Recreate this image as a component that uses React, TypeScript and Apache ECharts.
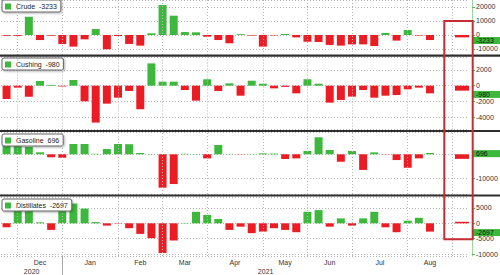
import React, { useEffect, useRef } from "react";
import * as echarts from "echarts";

// Weekly slots (week ending); the last slot holds the highlighted latest week
const weeks = [
  "11/20", "11/27", "12/04", "12/11", "12/18", "12/25", "01/01", "01/08", "01/15", "01/22",
  "01/29", "02/05", "02/12", "02/19", "02/26", "03/05", "03/12", "03/19", "03/26", "04/02",
  "04/09", "04/16", "04/23", "04/30", "05/07", "05/14", "05/21", "05/28", "06/04", "06/11",
  "06/18", "06/25", "07/02", "07/09", "07/16", "07/23", "07/30", "08/06", "08/13", "", "", "08/20",
];

// Weekly changes (thousand barrels)
const crude = [
  -500, -600, 13100, -3600, -500, -6400, -8300, -3100, 4300, -10200,
  -700, -6400, -7600, 1200, 21400, 13800, 2100, 1900, -1200, -3600,
  -5900, 600, -400, -8300, -300, 700, -1700, -4800, -5000, -7100,
  -7600, -6700, -6700, -7900, 1500, -4000, 3600, -400, -3600,
];
const cushing = [
  -1680, -250, -1390, 600, 100, -100, 720, -1980, -4680, -2280,
  -1520, -670, -2990, 2830, 510, 510, -550, -1900, 810, -670,
  300, -1270, 630, 250, -340, -150, -970, 810, 250, -2150,
  -1810, -1390, -550, -1520, -1270, -1180, -460, -250, -970,
];
const gasoline = [
  3500, 4200, 3000, 830, -1250, -1400, 4300, 4300, 200, 2200,
  4300, 4200, 550, 100, -13900, -12400, 200, 100, -1700, 3900,
  100, -100, 100, 400, 300, -1950, -1700, 1400, 7100, 1800,
  -3100, 1400, -6500, 800, -100, -2400, -5600, -1700, 550,
];
const distillates = [
  -1300, 4300, 5400, 300, -2150, 4600, 6450, 4800, 400, -750,
  -100, -1600, -3450, -4850, -9700, -5600, 100, 3750, 2700, 1400,
  -2150, -1100, -3200, -2700, -1600, -2150, -2900, 3750, 4300, -1100,
  1600, -750, 1600, 3750, -1300, -2900, 850, 1800, -2700,
];

const panelNames = ["Crude", "Cushing", "Gasoline", "Distillates"];
const latestValues = [-3233, -980, 696, -2697];
const highlightBars = [-1700, -630, -1900, 500];

const monthGridIdx = [1, 5, 10, 14, 18, 23, 27, 31, 36, 40];
const monthLabels = ["Dec", "Jan", "Feb", "Mar", "Apr", "May", "Jun", "Jul", "Aug"];
const monthLabelPos = [3, 7.5, 12, 16, 20.5, 25, 29, 33.5, 38];
const yearLabels = ["2020", "2021"];
const yearLabelPos = [2.25, 23.25];
const yearSplitIdx = [5];

const GREEN = "#3db83d";
const RED = "#ec1c24";
const FONT = "Liberation Sans, Arial, sans-serif";

export default function App() {
  const ref = useRef<HTMLDivElement>(null);
  useEffect(() => {
    const chart = echarts.init(ref.current!, null, { renderer: "svg" });
    const panelValues = [crude, cushing, gasoline, distillates];
    const layout = [
      { top: 0, height: 55, min: -14286, max: 25000, split: 5, legendTop: 0, hideZero: false },
      { top: 57, height: 72.5, min: -5560, max: 3640, split: 5, legendTop: 58, hideZero: false },
      { top: 132, height: 62, min: -16540, max: 9290, split: 2, legendTop: 134, hideZero: true },
      { top: 197, height: 59, min: -10650, max: 8570, split: 4, legendTop: 199, hideZero: false },
    ];
    const n = weeks.length;

    const grid = layout.map((l) => ({
      left: 1, right: 31, top: l.top, height: l.height,
      containLabel: false, outerBoundsMode: "none",
    }));

    const xAxis: any[] = [];
    layout.forEach((_, i) => {
      xAxis.push({ type: "category", gridIndex: i, data: weeks, show: false, boundaryGap: true });
      xAxis.push({ type: "category", gridIndex: i, data: weeks, show: false, boundaryGap: true });
    });
    const findLabel = (pos: number[], labels: string[]) => (v: number) => {
      const k = pos.findIndex((p) => Math.abs(p - v) < 1e-6);
      return k >= 0 ? labels[k] : "";
    };
    xAxis.push({
      type: "value", gridIndex: 3, min: -0.5, max: n - 0.5, position: "bottom",
      axisLine: { show: false, onZero: false },
      axisTick: { show: true, customValues: yearSplitIdx, length: 19, lineStyle: { color: "#aaa" } },
      splitLine: { show: false },
      axisLabel: {
        customValues: monthLabelPos, formatter: findLabel(monthLabelPos, monthLabels),
        fontSize: 7, color: "#333", fontFamily: FONT, margin: 3,
      },
    });
    xAxis.push({
      type: "value", gridIndex: 3, min: -0.5, max: n - 0.5, position: "bottom", offset: 9,
      axisLine: { show: false, onZero: false }, axisTick: { show: false }, splitLine: { show: false },
      axisLabel: {
        customValues: yearLabelPos, formatter: findLabel(yearLabelPos, yearLabels),
        fontSize: 7, color: "#333", fontFamily: FONT, margin: 3,
      },
    });

    const yAxis = layout.map((l, i) => ({
      type: "value", gridIndex: i, position: "right", offset: 3,
      min: l.min, max: l.max, splitNumber: l.split,
      axisLine: { show: true, onZero: false, lineStyle: { color: "#9fd49f", width: 1 } },
      axisTick: { show: true, length: 3, lineStyle: { color: "#5cb85c" } },
      axisLabel: {
        showMinLabel: false, showMaxLabel: false, fontSize: 7, color: "#333",
        fontFamily: FONT, margin: 4, lineHeight: 6,
        formatter: (v: number) => (l.hideZero && v === 0 ? "" : String(v)),
      },
      splitLine: { show: true, lineStyle: { color: "#b5b5b5", type: [1, 2], width: 1 } },
    }));

    const series: any[] = [];
    panelValues.forEach((vals, i) => {
      series.push({
        type: "line", xAxisIndex: 2 * i, yAxisIndex: i, data: [], z: 1, silent: true,
        markLine: {
          silent: true, symbol: ["none", "none"], animation: false,
          label: { show: false },
          lineStyle: { color: "#b5b5b5", type: [1, 2], width: 1 },
          data: monthGridIdx.map((x) => ({ xAxis: x })),
        },
      });
      series.push({
        name: panelNames[i], type: "bar", xAxisIndex: 2 * i, yAxisIndex: i,
        barWidth: 8, z: 2,
        data: vals.map((v) => ({ value: v, itemStyle: { color: v >= 0 ? GREEN : RED } })),
        markLine: {
          silent: true, symbol: ["none", "none"], animation: false,
          lineStyle: { color: "rgba(0,0,0,0)", width: 0 },
          label: {
            show: true, position: "end", distance: 4, offset: [0, 1],
            formatter: String(latestValues[i]),
            backgroundColor: GREEN, color: "#111", fontSize: 7, fontFamily: FONT,
            padding: [0, 3, 0, 3], width: 26, lineHeight: 7,
          },
          data: [{ yAxis: latestValues[i] }],
        },
      });
      series.push({
        name: panelNames[i] + " latest", type: "bar", xAxisIndex: 2 * i + 1, yAxisIndex: i,
        barWidth: 17, z: 2, itemStyle: { color: RED },
        data: weeks.map((_, k) => (k === n - 1 ? highlightBars[i] : null)),
      });
    });

    const legend = layout.map((l, i) => ({
      show: true, left: 2, top: l.legendTop, selectedMode: false,
      data: [{ name: panelNames[i], itemStyle: { color: GREEN } }],
      formatter: (name: string) => `${name}  ${latestValues[i]}`,
      icon: "rect", itemWidth: 6, itemHeight: 6,
      padding: [3, 4, 2, 3], backgroundColor: "#fff",
      borderColor: "#666", borderWidth: 1, borderRadius: 2,
      shadowBlur: 2, shadowOffsetX: 1, shadowOffsetY: 1, shadowColor: "rgba(0,0,0,0.3)",
      textStyle: { fontSize: 7, color: "#222", fontFamily: FONT },
    }));

    const graphic = [
      { type: "rect", z: 100, shape: { x: 0, y: 54.5, width: 500, height: 2.2 }, style: { fill: "#2e2e2e" } },
      { type: "rect", z: 100, shape: { x: 0, y: 130, width: 500, height: 2 }, style: { fill: "#2e2e2e" } },
      { type: "rect", z: 100, shape: { x: 0, y: 194.5, width: 500, height: 2 }, style: { fill: "#2e2e2e" } },
      {
        type: "rect", z: 101, shape: { x: 444.3, y: 21, width: 28.4, height: 218.3 },
        style: { fill: "none", stroke: "#c62c34", lineWidth: 2 },
      },
    ];

    chart.setOption({
      animation: false,
      backgroundColor: "#fff",
      textStyle: { fontFamily: FONT },
      grid, xAxis, yAxis, series, legend, graphic,
    });
    return () => chart.dispose();
  }, []);
  return (
    <div
      ref={ref}
      style={{ position: "absolute", left: 0, top: 0, width: 500, height: 275 }}
    />
  );
}
